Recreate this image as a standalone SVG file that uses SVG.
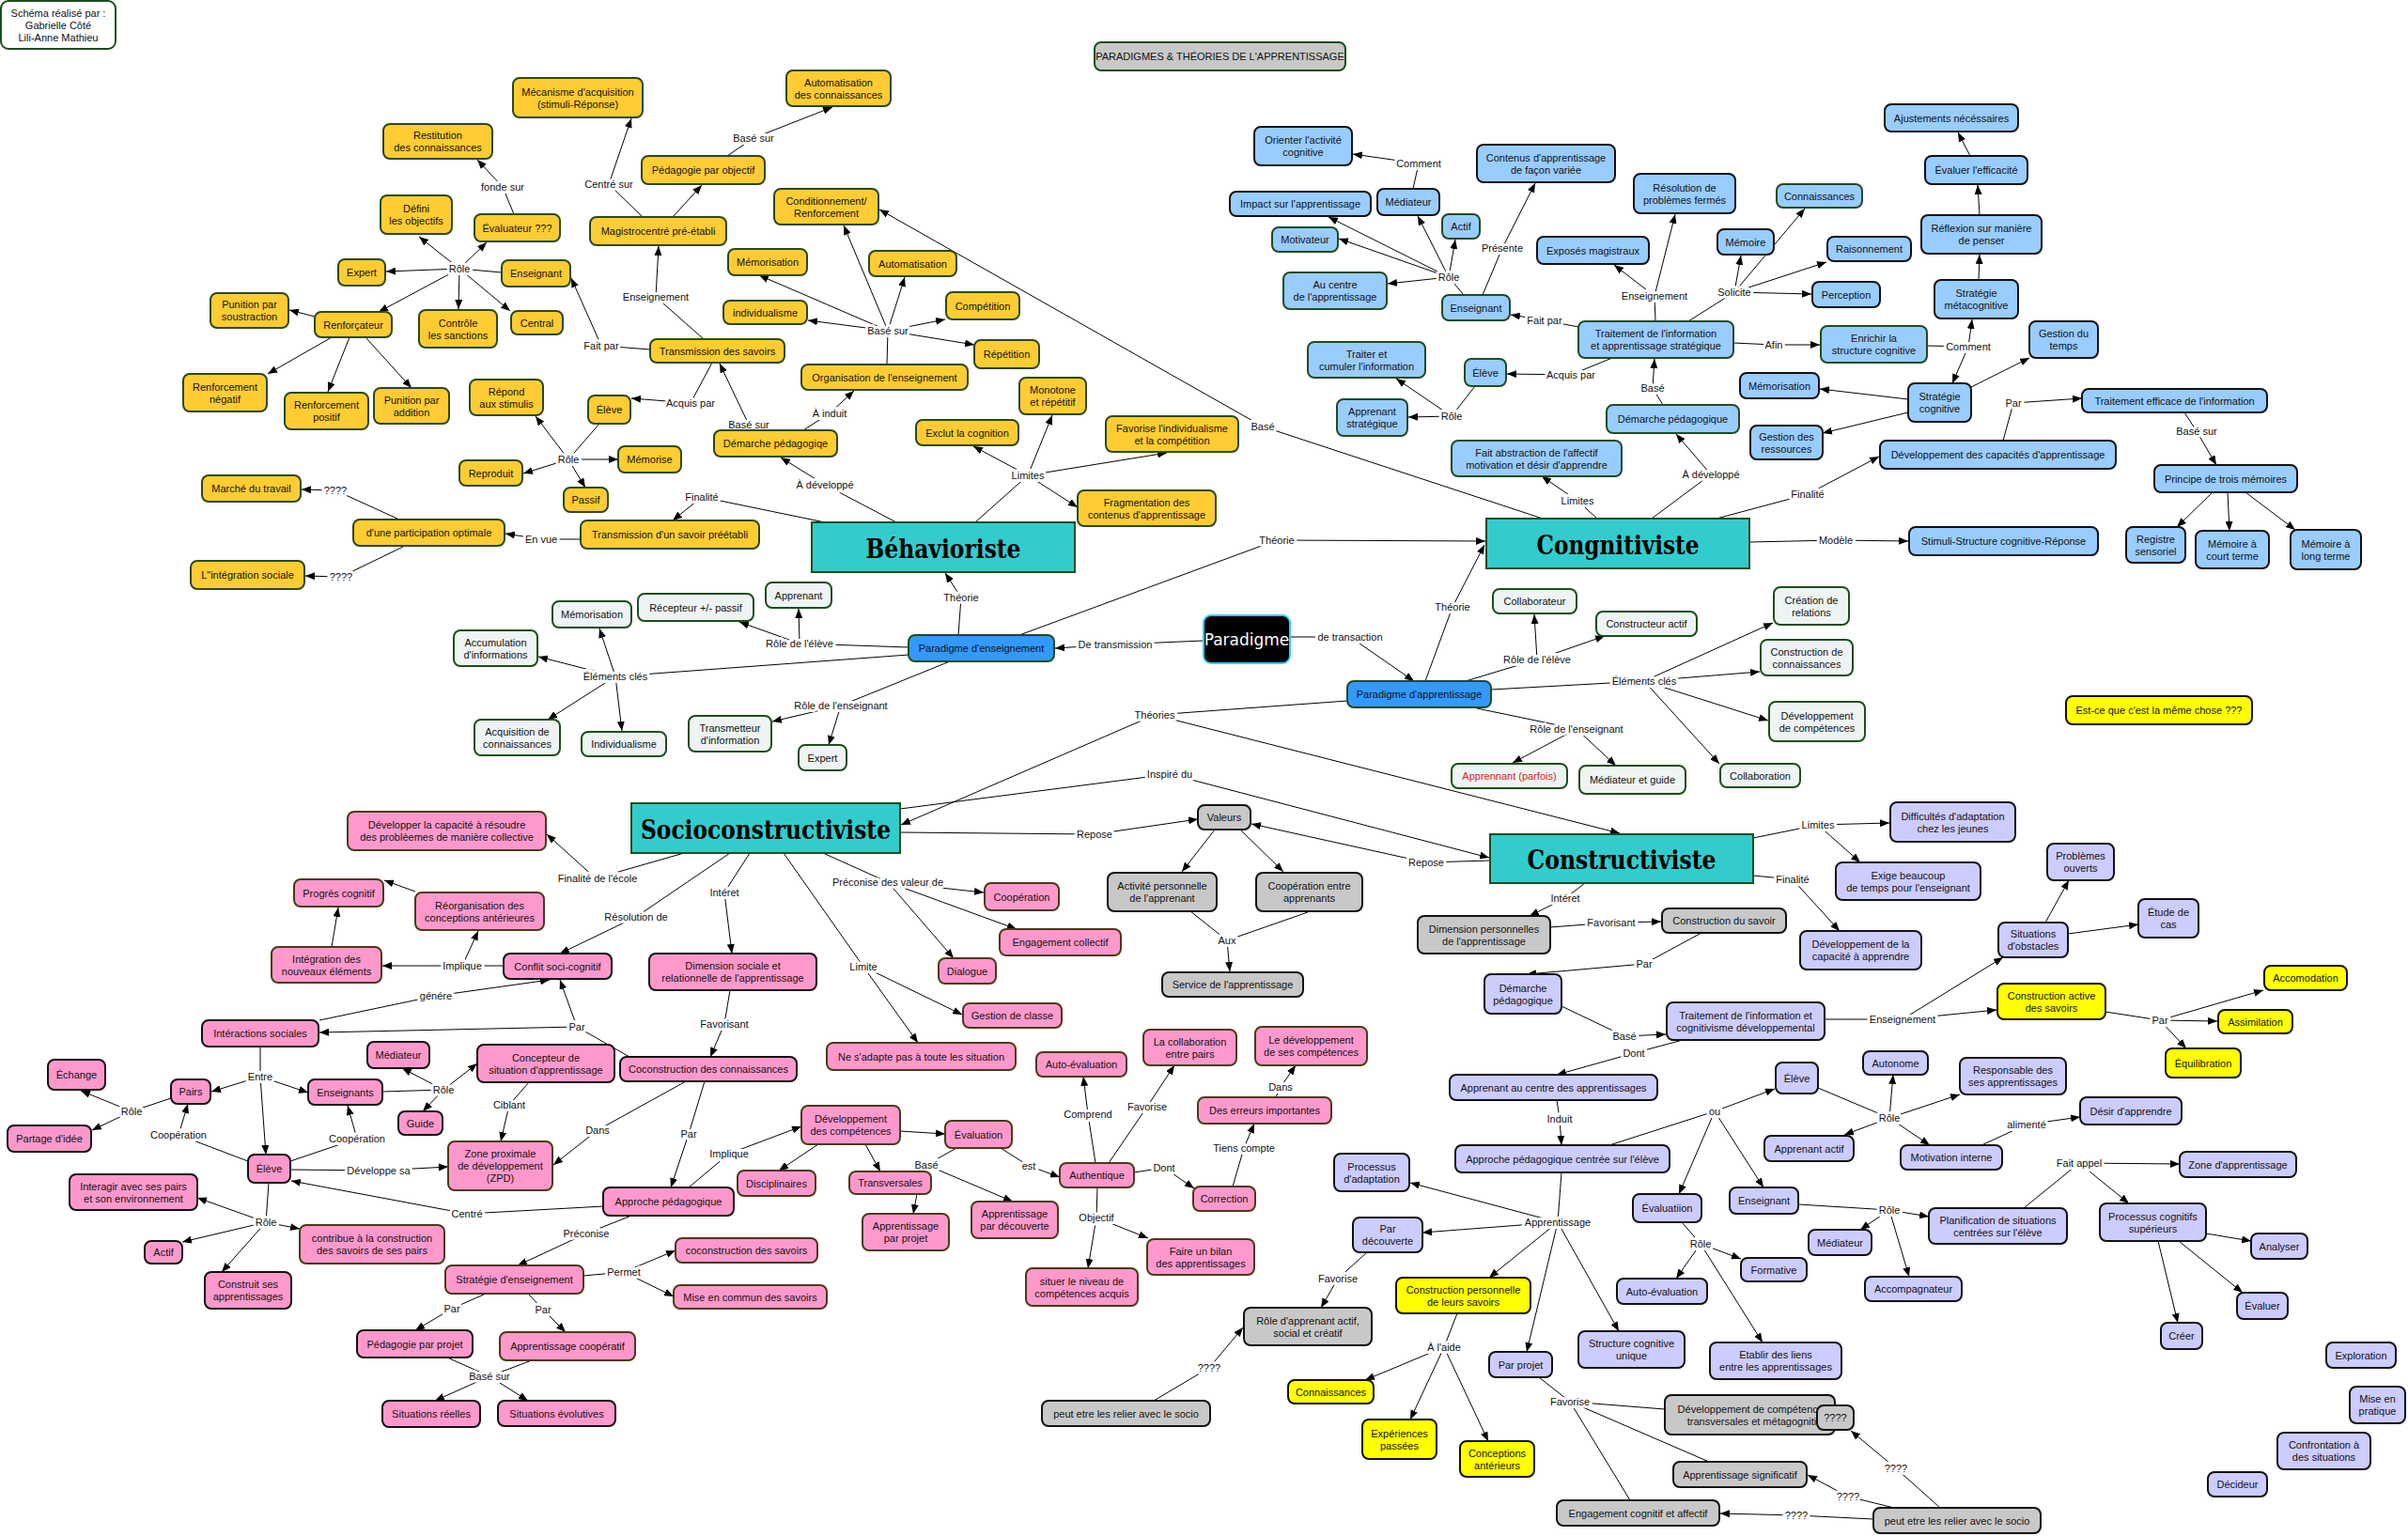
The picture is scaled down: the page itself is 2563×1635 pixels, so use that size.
<svg xmlns="http://www.w3.org/2000/svg" width="2563" height="1635" viewBox="0 0 2563 1635">
<defs>
<marker id="ar" viewBox="0 0 10 8" refX="10" refY="4" markerWidth="10" markerHeight="8" markerUnits="userSpaceOnUse" orient="auto"><path d="M0,0 L10,4 L0,8 z" fill="#000"/></marker>
</defs>
<style>
text{font-family:"Liberation Sans",Arial,sans-serif;font-size:11px;fill:#111;text-anchor:middle;dominant-baseline:central}
rect{stroke-width:2}
.y rect{fill:#FFCC33;stroke:#2A4A1A}
.bk rect{fill:#99CCFF;stroke:#111}
.bg rect{fill:#99CCFF;stroke:#1E4D1E}
.l rect{fill:#EEF4F4;stroke:#1E4D1E}
.g rect{fill:#C8C8C8;stroke:#111}
.gg rect{fill:#C8C8C8;stroke:#1E4D1E}
.p rect{fill:#CCCCFF;stroke:#111}
.x rect{fill:#FFFF00;stroke:#111}
.kb rect{fill:#FF99CC;stroke:#111}
.kr rect{fill:#FF99CC;stroke:#4A3A1A}
.h rect{fill:#33CCCC;stroke:#1E4D1E}
.h text{font-family:"DejaVu Serif",serif;font-weight:bold;font-size:28px;fill:#000}
.pb rect{fill:#3399FF;stroke:#1E4D1E}
#connectors path{stroke:#000;stroke-width:1;fill:none}
#connectors path.a{marker-end:url(#ar)}
.lb{paint-order:stroke;stroke:#fff;stroke-width:6px;stroke-linejoin:round}
</style>
<rect x="0" y="0" width="2563" height="1635" fill="#fff" stroke="none"/>
<g id="connectors">
<!-- behaviorist -->
<path d="M534,290L489,286"/><path class="a" d="M489,286L446,252"/><path class="a" d="M489,286L518,258"/><path class="a" d="M489,286L411,289"/><path class="a" d="M489,286L403,332"/><path class="a" d="M489,286L488,329"/><path class="a" d="M489,286L543,331"/>
<path d="M547,228L535,199"/><path class="a" d="M535,199L508,170"/>
<path class="a" d="M335,337L308,330"/><path class="a" d="M353,359L285,398"/><path class="a" d="M372,359L349,417"/><path class="a" d="M389,359L438,413"/>
<path d="M638,451L605,489"/><path class="a" d="M605,489L570,443"/><path class="a" d="M605,489L557,504"/><path class="a" d="M605,489L658,489"/><path class="a" d="M605,489L623,519"/>
<path d="M758,386L735,429"/><path class="a" d="M735,429L672,424"/>
<path d="M692,372L640,368"/><path class="a" d="M640,368L608,296"/>
<path d="M749,361L698,316"/><path class="a" d="M698,316L701,262"/>
<path d="M684,231L648,196"/><path class="a" d="M648,196L672,126"/>
<path class="a" d="M716,231L747,197"/>
<path d="M774,166L802,147"/><path class="a" d="M802,147L886,114"/>
<path class="a" d="M797,452L766,387"/>
<path d="M855,458L883,440"/><path class="a" d="M883,440L909,416"/>
<path d="M944,388L945,352"/><path class="a" d="M945,352L898,240"/><path class="a" d="M945,352L963,295"/><path class="a" d="M945,352L808,293"/><path class="a" d="M945,352L860,341"/><path class="a" d="M945,352L1006,340"/><path class="a" d="M945,352L1037,367"/>
<path d="M954,556L878,516"/><path class="a" d="M878,516L831,487"/>
<path d="M1038,556L1094,506"/><path class="a" d="M1094,506L1036,475"/><path class="a" d="M1094,506L1120,442"/><path class="a" d="M1094,506L1242,482"/><path class="a" d="M1094,506L1147,540"/>
<path d="M878,556L747,529"/><path class="a" d="M747,529L716,554"/>
<path d="M618,574L576,574"/><path class="a" d="M576,574L538,568"/>
<path d="M425,553L357,522"/><path class="a" d="M357,522L321,521"/>
<path d="M429,582L363,614"/><path class="a" d="M363,614L325,613"/>
<path d="M1642,552L1344,454"/><path class="a" d="M1344,454L936,223"/>
<!-- center -->
<path d="M1020,676L1023,636"/><path class="a" d="M1023,636L1006,610"/>
<path d="M1085,676L1359,575"/><path class="a" d="M1359,575L1581,576"/>
<path d="M1281,682L1187,686"/><path class="a" d="M1187,686L1123,690"/>
<path d="M1373,678L1437,678"/><path class="a" d="M1437,678L1505,725"/>
<path d="M967,689L851,685"/><path class="a" d="M851,685L850,648"/><path class="a" d="M851,685L787,662"/>
<path d="M967,697L655,720"/><path class="a" d="M655,720L638,669"/><path class="a" d="M655,720L573,699"/><path class="a" d="M655,720L583,766"/><path class="a" d="M655,720L662,778"/>
<path d="M1011,704L895,751"/><path class="a" d="M895,751L822,768"/><path class="a" d="M895,751L882,793"/>
<path d="M1517,725L1546,646"/><path class="a" d="M1546,646L1580,580"/>
<path d="M1560,725L1636,702"/><path class="a" d="M1636,702L1633,654"/><path class="a" d="M1636,702L1708,677"/>
<path d="M1587,734L1750,725"/><path class="a" d="M1750,725L1887,663"/><path class="a" d="M1750,725L1873,715"/><path class="a" d="M1750,725L1882,767"/><path class="a" d="M1750,725L1830,813"/>
<path d="M1572,754L1678,776"/><path class="a" d="M1678,776L1610,812"/><path class="a" d="M1678,776L1720,815"/>
<path d="M1434,746L1229,761"/><path class="a" d="M1229,761L959,878"/><path class="a" d="M1229,761L1724,887"/>
<path d="M958,861L1245,824"/><path class="a" d="M1245,824L1585,913"/>
<path d="M958,886L1165,888"/><path class="a" d="M1165,888L1275,872"/>
<path d="M1586,916L1518,918"/><path class="a" d="M1518,918L1332,877"/>
<path class="a" d="M1293,883L1258,928"/><path class="a" d="M1320,883L1366,928"/>
<path d="M1267,970L1306,1001"/><path d="M1392,971L1306,1001"/><path class="a" d="M1306,1001L1309,1034"/>
<!-- cognitive -->
<path d="M1862,577L1954,575"/><path class="a" d="M1954,575L2031,576"/>
<path d="M1827,552L1924,526"/><path class="a" d="M1924,526L2000,486"/>
<path d="M1758,552L1821,505"/><path class="a" d="M1821,505L1784,462"/>
<path d="M1700,552L1679,533"/><path class="a" d="M1679,533L1641,507"/>
<path d="M1770,431L1759,413"/><path class="a" d="M1759,413L1761,382"/>
<path d="M1680,348L1644,341"/><path class="a" d="M1644,341L1608,335"/>
<path d="M1762,342L1761,315"/><path class="a" d="M1761,315L1718,282"/><path class="a" d="M1761,315L1783,228"/>
<path d="M1797,342L1846,311"/><path class="a" d="M1846,311L1853,272"/><path class="a" d="M1846,311L1921,222"/><path class="a" d="M1846,311L1944,279"/><path class="a" d="M1846,311L1928,313"/>
<path d="M1845,365L1888,367"/><path class="a" d="M1888,367L1937,367"/>
<path d="M1716,381L1672,399"/><path class="a" d="M1672,399L1604,398"/>
<path d="M1570,411L1545,443"/><path class="a" d="M1545,443L1486,403"/><path class="a" d="M1545,443L1499,444"/>
<path d="M1578,314L1599,264"/><path class="a" d="M1599,264L1634,195"/>
<path d="M1558,314L1542,295"/><path class="a" d="M1542,295L1414,231"/><path class="a" d="M1542,295L1425,254"/><path class="a" d="M1542,295L1477,302"/><path class="a" d="M1542,295L1509,230"/><path class="a" d="M1542,295L1549,255"/>
<path d="M1504,201L1510,174"/><path class="a" d="M1510,174L1440,164"/>
<path d="M2051,368L2095,369"/><path class="a" d="M2095,369L2099,340"/><path class="a" d="M2095,369L2078,408"/>
<path class="a" d="M2106,298L2107,271"/><path class="a" d="M2107,229L2105,197"/><path class="a" d="M2097,166L2084,141"/>
<path class="a" d="M2098,412L2160,381"/><path class="a" d="M2031,425L1937,414"/><path class="a" d="M2031,439L1940,461"/>
<path d="M2132,469L2143,429"/><path class="a" d="M2143,429L2216,424"/>
<path d="M2325,439L2338,459"/><path class="a" d="M2338,459L2359,495"/>
<path class="a" d="M2355,524L2317,561"/><path class="a" d="M2371,524L2373,565"/><path class="a" d="M2390,524L2443,564"/>
<!-- constructiviste -->
<path d="M1866,892L1935,878"/><path class="a" d="M1935,878L2011,876"/><path class="a" d="M1935,878L1980,918"/>
<path d="M1866,932L1908,936"/><path class="a" d="M1908,936L1958,991"/>
<path d="M1687,940L1666,956"/><path class="a" d="M1666,956L1628,975"/>
<path d="M1650,987L1715,982"/><path class="a" d="M1715,982L1768,981"/>
<path d="M1811,993L1750,1026"/><path class="a" d="M1750,1026L1625,1037"/>
<path d="M1662,1071L1729,1103"/><path class="a" d="M1729,1103L1773,1101"/>
<path d="M1942,1085L2025,1085"/><path class="a" d="M2025,1085L2132,1019"/><path class="a" d="M2025,1085L2125,1075"/>
<path class="a" d="M2177,982L2202,937"/><path class="a" d="M2201,994L2276,984"/>
<path d="M2241,1077L2299,1086"/><path class="a" d="M2299,1086L2409,1054"/><path class="a" d="M2299,1086L2360,1087"/><path class="a" d="M2299,1086L2327,1116"/>
<path d="M1791,1107L1739,1121"/><path class="a" d="M1739,1121L1657,1144"/>
<path d="M1657,1171L1660,1191"/><path class="a" d="M1660,1191L1662,1219"/>
<path d="M1713,1219L1825,1183"/><path class="a" d="M1825,1183L1889,1159"/><path class="a" d="M1825,1183L1787,1271"/><path class="a" d="M1825,1183L1877,1264"/>
<path d="M1935,1158L2011,1190"/><path class="a" d="M2011,1190L2015,1144"/><path class="a" d="M2011,1190L2086,1165"/><path class="a" d="M2011,1190L1963,1208"/><path class="a" d="M2011,1190L2054,1219"/>
<path d="M2109,1219L2157,1197"/><path class="a" d="M2157,1197L2214,1189"/>
<path d="M1914,1282L2011,1288"/><path class="a" d="M2011,1288L2053,1295"/><path class="a" d="M2011,1288L1980,1309"/><path class="a" d="M2011,1288L2032,1359"/>
<path d="M2154,1286L2213,1238"/><path class="a" d="M2213,1238L2320,1239"/><path class="a" d="M2213,1238L2266,1281"/>
<path class="a" d="M2348,1313L2396,1321"/><path class="a" d="M2319,1321L2387,1376"/><path class="a" d="M2297,1321L2318,1408"/>
<path d="M1790,1301L1810,1324"/><path class="a" d="M1810,1324L1853,1340"/><path class="a" d="M1810,1324L1784,1361"/><path class="a" d="M1810,1324L1876,1429"/>
<path d="M1662,1248L1658,1301"/><path class="a" d="M1658,1301L1501,1259"/><path class="a" d="M1658,1301L1514,1312"/><path class="a" d="M1658,1301L1585,1360"/><path class="a" d="M1658,1301L1625,1439"/><path class="a" d="M1658,1301L1723,1417"/>
<path d="M1455,1333L1424,1361"/><path class="a" d="M1424,1361L1406,1392"/>
<path d="M1551,1398L1537,1434"/><path class="a" d="M1537,1434L1453,1469"/><path class="a" d="M1537,1434L1501,1511"/><path class="a" d="M1537,1434L1584,1534"/>
<path d="M1638,1466L1671,1492"/><path d="M1671,1492L1772,1500"/><path d="M1671,1492L1819,1556"/><path d="M1671,1492L1735,1597"/>
<path d="M1994,1617L1912,1613"/><path class="a" d="M1912,1613L1831,1611"/>
<path d="M2016,1605L1967,1593"/><path class="a" d="M1967,1593L1924,1570"/>
<path d="M2065,1605L2018,1563"/><path class="a" d="M2018,1563L1970,1523"/>
<path d="M1228,1491L1287,1456"/><path class="a" d="M1287,1456L1323,1413"/>
<!-- socio -->
<path d="M728,908L634,935"/><path class="a" d="M634,935L582,888"/>
<path d="M777,908L677,976"/><path class="a" d="M677,976L596,1015"/>
<path d="M798,908L771,950"/><path class="a" d="M771,950L779,1015"/>
<path d="M834,908L919,1029"/><path class="a" d="M919,1029L977,1110"/><path class="a" d="M919,1029L1024,1080"/>
<path d="M876,908L945,939"/><path class="a" d="M945,939L1047,950"/><path class="a" d="M945,939L1082,989"/><path class="a" d="M945,939L1015,1020"/>
<path d="M536,1028L492,1028"/><path class="a" d="M492,1028L407,1028"/><path class="a" d="M492,1028L509,991"/>
<path class="a" d="M442,949L409,937"/><path class="a" d="M353,1008L360,966"/>
<path d="M340,1086L464,1060"/><path class="a" d="M464,1060L585,1043"/>
<path d="M670,1125L614,1093"/><path class="a" d="M614,1093L596,1043"/><path class="a" d="M614,1093L340,1099"/>
<path d="M777,1054L771,1090"/><path class="a" d="M771,1090L756,1125"/>
<path d="M730,1151L636,1203"/><path class="a" d="M636,1203L589,1240"/>
<path d="M750,1151L733,1207"/><path class="a" d="M733,1207L714,1264"/>
<path d="M277,1114L277,1146"/><path class="a" d="M277,1146L225,1162"/><path class="a" d="M277,1146L328,1163"/><path class="a" d="M277,1146L283,1229"/>
<path d="M182,1169L140,1183"/><path class="a" d="M140,1183L86,1161"/><path class="a" d="M140,1183L98,1203"/>
<path d="M264,1236L190,1208"/><path class="a" d="M190,1208L200,1175"/>
<path d="M309,1236L380,1212"/><path class="a" d="M380,1212L370,1177"/>
<path d="M407,1162L472,1160"/><path class="a" d="M472,1160L428,1137"/><path class="a" d="M472,1160L508,1132"/><path class="a" d="M472,1160L450,1183"/>
<path d="M563,1152L542,1176"/><path class="a" d="M542,1176L533,1215"/>
<path d="M309,1245L403,1246"/><path class="a" d="M403,1246L477,1242"/>
<path d="M643,1284L497,1292"/><path class="a" d="M497,1292L310,1257"/>
<path d="M286,1259L283,1301"/><path class="a" d="M283,1301L210,1275"/><path class="a" d="M283,1301L194,1322"/><path class="a" d="M283,1301L319,1308"/><path class="a" d="M283,1301L236,1354"/>
<path d="M672,1294L624,1313"/><path class="a" d="M624,1313L551,1347"/>
<path d="M517,1377L481,1393"/><path class="a" d="M481,1393L442,1416"/>
<path d="M562,1377L578,1394"/><path class="a" d="M578,1394L602,1418"/>
<path d="M476,1445L521,1465"/><path d="M566,1448L521,1465"/><path class="a" d="M521,1465L463,1491"/><path class="a" d="M521,1465L562,1491"/>
<path d="M621,1358L664,1354"/><path class="a" d="M664,1354L719,1331"/><path class="a" d="M664,1354L717,1380"/>
<path d="M733,1264L776,1228"/><path class="a" d="M776,1228L853,1199"/>
<path class="a" d="M958,1204L1006,1207"/><path class="a" d="M871,1218L829,1246"/><path class="a" d="M921,1218L937,1247"/>
<path class="a" d="M976,1271L972,1292"/>
<path d="M1018,1222L986,1240"/><path class="a" d="M986,1240L1078,1279"/>
<path d="M1065,1222L1095,1241"/><path class="a" d="M1095,1241L1128,1253"/>
<path d="M1166,1238L1158,1186"/><path class="a" d="M1158,1186L1153,1146"/>
<path d="M1180,1238L1221,1178"/><path class="a" d="M1221,1178L1250,1134"/>
<path d="M1207,1248L1239,1243"/><path class="a" d="M1239,1243L1271,1265"/>
<path d="M1168,1264L1167,1296"/><path class="a" d="M1167,1296L1158,1350"/><path class="a" d="M1167,1296L1222,1318"/>
<path d="M1312,1263L1324,1222"/><path class="a" d="M1324,1222L1335,1196"/>
<path d="M1358,1168L1363,1157"/><path class="a" d="M1363,1157L1379,1134"/>
<g id="link-labels">
<text class="lb" x="489" y="286">Rôle</text><text class="lb" x="535" y="199">fonde sur</text><text class="lb" x="605" y="489">Rôle</text><text class="lb" x="735" y="429">Acquis par</text><text class="lb" x="640" y="368">Fait par</text><text class="lb" x="698" y="316">Enseignement</text><text class="lb" x="648" y="196">Centré sur</text><text class="lb" x="802" y="147">Basé sur</text><text class="lb" x="797" y="452">Basé sur</text><text class="lb" x="883" y="440">À induit</text><text class="lb" x="945" y="352">Basé sur</text><text class="lb" x="878" y="516">À développé</text><text class="lb" x="1094" y="506">Limites</text><text class="lb" x="747" y="529">Finalité</text><text class="lb" x="576" y="574">En vue</text><text class="lb" x="357" y="522">????</text><text class="lb" x="363" y="614">????</text><text class="lb" x="1344" y="454">Basé</text>
<text class="lb" x="1023" y="636">Théorie</text><text class="lb" x="1359" y="575">Théorie</text><text class="lb" x="1187" y="686">De transmission</text><text class="lb" x="1437" y="678">de transaction</text><text class="lb" x="851" y="685">Rôle de l'élève</text><text class="lb" x="655" y="720">Éléments clés</text><text class="lb" x="895" y="751">Rôle de l'enseignant</text><text class="lb" x="1546" y="646">Théorie</text><text class="lb" x="1636" y="702">Rôle de l'élève</text><text class="lb" x="1750" y="725">Éléments clés</text><text class="lb" x="1678" y="776">Rôle de l'enseignant</text><text class="lb" x="1229" y="761">Théories</text><text class="lb" x="1245" y="824">Inspiré du</text><text class="lb" x="1165" y="888">Repose</text><text class="lb" x="1518" y="918">Repose</text><text class="lb" x="1306" y="1001">Aux</text>
<text class="lb" x="1954" y="575">Modèle</text><text class="lb" x="1924" y="526">Finalité</text><text class="lb" x="1821" y="505">À développé</text><text class="lb" x="1679" y="533">Limites</text><text class="lb" x="1759" y="413">Basé</text><text class="lb" x="1644" y="341">Fait par</text><text class="lb" x="1761" y="315">Enseignement</text><text class="lb" x="1846" y="311">Solicite</text><text class="lb" x="1888" y="367">Afin</text><text class="lb" x="1672" y="399">Acquis par</text><text class="lb" x="1545" y="443">Rôle</text><text class="lb" x="1599" y="264">Présente</text><text class="lb" x="1542" y="295">Rôle</text><text class="lb" x="1510" y="174">Comment</text><text class="lb" x="2095" y="369">Comment</text><text class="lb" x="2143" y="429">Par</text><text class="lb" x="2338" y="459">Basé sur</text>
<text class="lb" x="1935" y="878">Limites</text><text class="lb" x="1908" y="936">Finalité</text><text class="lb" x="1666" y="956">Intéret</text><text class="lb" x="1715" y="982">Favorisant</text><text class="lb" x="1750" y="1026">Par</text><text class="lb" x="1729" y="1103">Basé</text><text class="lb" x="2025" y="1085">Enseignement</text><text class="lb" x="2299" y="1086">Par</text><text class="lb" x="1739" y="1121">Dont</text><text class="lb" x="1660" y="1191">Induit</text><text class="lb" x="1825" y="1183">ou</text><text class="lb" x="2011" y="1190">Rôle</text><text class="lb" x="2157" y="1197">alimenté</text><text class="lb" x="2011" y="1288">Rôle</text><text class="lb" x="2213" y="1238">Fait appel</text><text class="lb" x="1810" y="1324">Rôle</text><text class="lb" x="1658" y="1301">Apprentissage</text><text class="lb" x="1424" y="1361">Favorise</text><text class="lb" x="1537" y="1434">À l'aide</text><text class="lb" x="1671" y="1492">Favorise</text><text class="lb" x="1912" y="1613">????</text><text class="lb" x="1967" y="1593">????</text><text class="lb" x="2018" y="1563">????</text><text class="lb" x="1287" y="1456">????</text>
<text class="lb" x="636" y="935">Finalité de l'école</text><text class="lb" x="677" y="976">Résolution de</text><text class="lb" x="771" y="950">Intéret</text><text class="lb" x="919" y="1029">Limite</text><text class="lb" x="945" y="939">Préconise des valeur de</text><text class="lb" x="492" y="1028">Implique</text><text class="lb" x="464" y="1060">génére</text><text class="lb" x="614" y="1093">Par</text><text class="lb" x="771" y="1090">Favorisant</text><text class="lb" x="636" y="1203">Dans</text><text class="lb" x="733" y="1207">Par</text><text class="lb" x="277" y="1146">Entre</text><text class="lb" x="140" y="1183">Rôle</text><text class="lb" x="190" y="1208">Coopération</text><text class="lb" x="380" y="1212">Coopération</text><text class="lb" x="472" y="1160">Rôle</text><text class="lb" x="542" y="1176">Ciblant</text><text class="lb" x="403" y="1246">Développe sa</text><text class="lb" x="497" y="1292">Centré</text><text class="lb" x="283" y="1301">Rôle</text><text class="lb" x="624" y="1313">Préconise</text><text class="lb" x="481" y="1393">Par</text><text class="lb" x="578" y="1394">Par</text><text class="lb" x="521" y="1465">Basé sur</text><text class="lb" x="664" y="1354">Permet</text><text class="lb" x="776" y="1228">Implique</text><text class="lb" x="986" y="1240">Basé</text><text class="lb" x="1095" y="1241">est</text><text class="lb" x="1158" y="1186">Comprend</text><text class="lb" x="1221" y="1178">Favorise</text><text class="lb" x="1239" y="1243">Dont</text><text class="lb" x="1167" y="1296">Objectif</text><text class="lb" x="1324" y="1222">Tiens compte</text><text class="lb" x="1363" y="1157">Dans</text>
</g>
</g>
<!-- special nodes -->
<g id="schema"><rect x="1" y="1" width="122" height="51" rx="8" fill="#fff" stroke="#1E4D1E"/><text x="62" y="26.5"><tspan x="62" dy="-13">Schéma réalisé par :</tspan><tspan x="62" dy="13">Gabrielle Côté</tspan><tspan x="62" dy="13">Lili-Anne Mathieu</tspan></text></g>
<g id="titre" class="gg"><rect x="1165" y="45" width="267" height="30" rx="7"/><text x="1298.5" y="60">PARADIGMES &amp; THÉORIES DE L'APPRENTISSAGE</text></g>
<g id="paradigme"><rect x="1281" y="655" width="92" height="51" rx="8" fill="#000" stroke="#33CCFF"/><text x="1327" y="680.5" style="fill:#fff;font-size:17px;font-family:'DejaVu Sans',sans-serif">Paradigme</text></g>
<g id="par-ens" class="pb"><rect x="967" y="676" width="155" height="28" rx="7"/><text x="1044.5" y="690">Paradigme d'enseignement</text></g>
<g id="par-app" class="pb"><rect x="1434" y="725" width="153" height="28" rx="7"/><text x="1510.5" y="739">Paradigme d'apprentissage</text></g>
<g id="h-behav" class="h"><rect x="864" y="556" width="280" height="53" rx="0"/><text x="1004" y="584" textLength="165" lengthAdjust="spacingAndGlyphs">Béhavioriste</text></g>
<g id="h-cogn" class="h"><rect x="1582" y="552" width="280" height="53" rx="0"/><text x="1722" y="580" textLength="173" lengthAdjust="spacingAndGlyphs">Congnitiviste</text></g>
<g id="h-socio" class="h"><rect x="672" y="855" width="286" height="53" rx="0"/><text x="815" y="883" textLength="266" lengthAdjust="spacingAndGlyphs">Socioconstructiviste</text></g>
<g id="h-constr" class="h"><rect x="1586" y="888" width="280" height="52" rx="0"/><text x="1726" y="915" textLength="201" lengthAdjust="spacingAndGlyphs">Constructiviste</text></g>
<!-- yellow -->
<g id="y1" class="y"><rect x="546" y="83" width="138" height="42" rx="7"/><text x="615" y="104"><tspan x="615" dy="-6.5">Mécanisme d'acquisition</tspan><tspan x="615" dy="13">(stimuli-Réponse)</tspan></text></g>
<g id="y2" class="y"><rect x="837" y="75" width="111" height="38" rx="7"/><text x="892.5" y="94"><tspan x="892.5" dy="-6.5">Automatisation</tspan><tspan x="892.5" dy="13">des connaissances</tspan></text></g>
<g id="y3" class="y"><rect x="408" y="132" width="116" height="37" rx="7"/><text x="466" y="150.5"><tspan x="466" dy="-6.5">Restitution</tspan><tspan x="466" dy="13">des connaissances</tspan></text></g>
<g id="y4" class="y"><rect x="683" y="166" width="131" height="30" rx="7"/><text x="748.5" y="181">Pédagogie par objectif</text></g>
<g id="y5" class="y"><rect x="824" y="201" width="111" height="38" rx="7"/><text x="879.5" y="220"><tspan x="879.5" dy="-6.5">Conditionnement/</tspan><tspan x="879.5" dy="13">Renforcement</tspan></text></g>
<g id="y6" class="y"><rect x="405" y="208" width="76" height="41" rx="7"/><text x="443" y="228.5"><tspan x="443" dy="-6.5">Défini</tspan><tspan x="443" dy="13">les objectifs</tspan></text></g>
<g id="y7" class="y"><rect x="505" y="228" width="91" height="29" rx="7"/><text x="550.5" y="242.5">Évaluateur ???</text></g>
<g id="y8" class="y"><rect x="628" y="231" width="145" height="30" rx="7"/><text x="700.5" y="246">Magistrocentré pré-établi</text></g>
<g id="y9" class="y"><rect x="775" y="265" width="84" height="28" rx="7"/><text x="817" y="279">Mémorisation</text></g>
<g id="y10" class="y"><rect x="925" y="267" width="93" height="27" rx="7"/><text x="971.5" y="280.5">Automatisation</text></g>
<g id="y11" class="y"><rect x="360" y="276" width="50" height="28" rx="7"/><text x="385" y="290">Expert</text></g>
<g id="y12" class="y"><rect x="534" y="277" width="73" height="28" rx="7"/><text x="570.5" y="291">Enseignant</text></g>
<g id="y13" class="y"><rect x="224" y="312" width="83" height="37" rx="7"/><text x="265.5" y="330.5"><tspan x="265.5" dy="-6.5">Punition par</tspan><tspan x="265.5" dy="13">soustraction</tspan></text></g>
<g id="y14" class="y"><rect x="335" y="332" width="82" height="27" rx="7"/><text x="376" y="345.5">Renforçateur</text></g>
<g id="y15" class="y"><rect x="446" y="330" width="83" height="40" rx="7"/><text x="487.5" y="350"><tspan x="487.5" dy="-6.5">Contrôle</tspan><tspan x="487.5" dy="13">les sanctions</tspan></text></g>
<g id="y16" class="y"><rect x="544" y="331" width="55" height="25" rx="7"/><text x="571.5" y="343.5">Central</text></g>
<g id="y17" class="y"><rect x="770" y="320" width="89" height="25" rx="7"/><text x="814.5" y="332.5">individualisme</text></g>
<g id="y18" class="y"><rect x="1007" y="311" width="78" height="29" rx="7"/><text x="1046" y="325.5">Compétition</text></g>
<g id="y19" class="y"><rect x="1037" y="362" width="69" height="30" rx="7"/><text x="1071.5" y="377">Répétition</text></g>
<g id="y20" class="y"><rect x="692" y="361" width="143" height="25" rx="7"/><text x="763.5" y="373.5">Transmission des savoirs</text></g>
<g id="y21" class="y"><rect x="853" y="388" width="177" height="27" rx="7"/><text x="941.5" y="401.5">Organisation de l'enseignement</text></g>
<g id="y22" class="y"><rect x="195" y="398" width="89" height="40" rx="7"/><text x="239.5" y="418"><tspan x="239.5" dy="-6.5">Renforcement</tspan><tspan x="239.5" dy="13">négatif</tspan></text></g>
<g id="y23" class="y"><rect x="303" y="418" width="89" height="39" rx="7"/><text x="347.5" y="437.5"><tspan x="347.5" dy="-6.5">Renforcement</tspan><tspan x="347.5" dy="13">positif</tspan></text></g>
<g id="y24" class="y"><rect x="398" y="413" width="80" height="38" rx="7"/><text x="438" y="432"><tspan x="438" dy="-6.5">Punition par</tspan><tspan x="438" dy="13">addition</tspan></text></g>
<g id="y25" class="y"><rect x="500" y="404" width="78" height="38" rx="7"/><text x="539" y="423"><tspan x="539" dy="-6.5">Répond</tspan><tspan x="539" dy="13">aux stimulis</tspan></text></g>
<g id="y26" class="y"><rect x="626" y="421" width="45" height="30" rx="7"/><text x="648.5" y="436">Élève</text></g>
<g id="y27" class="y"><rect x="1085" y="402" width="71" height="39" rx="7"/><text x="1120.5" y="421.5"><tspan x="1120.5" dy="-6.5">Monotone</tspan><tspan x="1120.5" dy="13">et répétitif</tspan></text></g>
<g id="y28" class="y"><rect x="975" y="447" width="109" height="27" rx="7"/><text x="1029.5" y="460.5">Exclut la cognition</text></g>
<g id="y29" class="y"><rect x="1177" y="443" width="141" height="38" rx="7"/><text x="1247.5" y="462"><tspan x="1247.5" dy="-6.5">Favorise l'individualisme</tspan><tspan x="1247.5" dy="13">et la compétition</tspan></text></g>
<g id="y30" class="y"><rect x="760" y="458" width="131" height="28" rx="7"/><text x="825.5" y="472">Démarche pédagogiqe</text></g>
<g id="y31" class="y"><rect x="658" y="475" width="67" height="28" rx="7"/><text x="691.5" y="489">Mémorise</text></g>
<g id="y32" class="y"><rect x="489" y="490" width="67" height="27" rx="7"/><text x="522.5" y="503.5">Reproduit</text></g>
<g id="y33" class="y"><rect x="600" y="519" width="47" height="26" rx="7"/><text x="623.5" y="532">Passif</text></g>
<g id="y34" class="y"><rect x="215" y="506" width="105" height="28" rx="7"/><text x="267.5" y="520">Marché du travail</text></g>
<g id="y35" class="y"><rect x="1147" y="522" width="147" height="38" rx="7"/><text x="1220.5" y="541"><tspan x="1220.5" dy="-6.5">Fragmentation des</tspan><tspan x="1220.5" dy="13">contenus d'apprentissage</tspan></text></g>
<g id="y36" class="y"><rect x="376" y="553" width="161" height="28" rx="7"/><text x="456.5" y="567">d'une participation optimale</text></g>
<g id="y37" class="y"><rect x="618" y="554" width="190" height="30" rx="7"/><text x="713" y="569">Transmission d'un savoir préétabli</text></g>
<g id="y38" class="y"><rect x="203" y="597" width="121" height="30" rx="7"/><text x="263.5" y="612">L"intégration sociale</text></g>
<!-- blue -->
<g id="b1" class="bk"><rect x="1335" y="135" width="104" height="41" rx="7"/><text x="1387" y="155.5"><tspan x="1387" dy="-6.5">Orienter l'activité</tspan><tspan x="1387" dy="13">cognitive</tspan></text></g>
<g id="b2" class="bk"><rect x="1572" y="154" width="147" height="40" rx="7"/><text x="1645.5" y="174"><tspan x="1645.5" dy="-6.5">Contenus d'apprentissage</tspan><tspan x="1645.5" dy="13">de façon variée</tspan></text></g>
<g id="b3" class="bk"><rect x="1309" y="204" width="150" height="26" rx="7"/><text x="1384" y="217">Impact sur l'apprentissage</text></g>
<g id="b4" class="bk"><rect x="1466" y="201" width="66" height="28" rx="7"/><text x="1499" y="215">Médiateur</text></g>
<g id="b5" class="bg"><rect x="1535" y="228" width="40" height="26" rx="7"/><text x="1555" y="241">Actif</text></g>
<g id="b6" class="bg"><rect x="1354" y="242" width="70" height="26" rx="7"/><text x="1389" y="255">Motivateur</text></g>
<g id="b7" class="bk"><rect x="1739" y="185" width="108" height="42" rx="7"/><text x="1793" y="206"><tspan x="1793" dy="-6.5">Résolution de</tspan><tspan x="1793" dy="13">problèmes fermés</tspan></text></g>
<g id="b8" class="bg"><rect x="1891" y="196" width="91" height="25" rx="7"/><text x="1936.5" y="208.5">Connaissances</text></g>
<g id="b9" class="bk"><rect x="1636" y="252" width="119" height="29" rx="7"/><text x="1695.5" y="266.5">Exposés magistraux</text></g>
<g id="b10" class="bk"><rect x="1828" y="244" width="60" height="27" rx="7"/><text x="1858" y="257.5">Mémoire</text></g>
<g id="b11" class="bk"><rect x="1945" y="252" width="89" height="26" rx="7"/><text x="1989.5" y="265">Raisonnement</text></g>
<g id="b12" class="bg"><rect x="1366" y="290" width="110" height="39" rx="7"/><text x="1421" y="309.5"><tspan x="1421" dy="-6.5">Au centre</tspan><tspan x="1421" dy="13">de l'apprentissage</tspan></text></g>
<g id="b13" class="bk"><rect x="1929" y="300" width="72" height="27" rx="7"/><text x="1965" y="313.5">Perception</text></g>
<g id="b14" class="bg"><rect x="1535" y="314" width="72" height="27" rx="7"/><text x="1571" y="327.5">Enseignant</text></g>
<g id="b15" class="bg"><rect x="1680" y="342" width="165" height="39" rx="7"/><text x="1762.5" y="361.5"><tspan x="1762.5" dy="-6.5">Traitement de l'information</tspan><tspan x="1762.5" dy="13">et apprentissage stratégique</tspan></text></g>
<g id="b16" class="bg"><rect x="1938" y="347" width="113" height="39" rx="7"/><text x="1994.5" y="366.5"><tspan x="1994.5" dy="-6.5">Enrichir la</tspan><tspan x="1994.5" dy="13">structure cognitive</tspan></text></g>
<g id="b17" class="bg"><rect x="1392" y="364" width="125" height="38" rx="7"/><text x="1454.5" y="383"><tspan x="1454.5" dy="-6.5">Traiter et</tspan><tspan x="1454.5" dy="13">cumuler l'information</tspan></text></g>
<g id="b18" class="bg"><rect x="1559" y="382" width="44" height="29" rx="7"/><text x="1581" y="396.5">Élève</text></g>
<g id="b19" class="bk"><rect x="1852" y="397" width="84" height="27" rx="7"/><text x="1894" y="410.5">Mémorisation</text></g>
<g id="b20" class="bg"><rect x="1423" y="425" width="75" height="39" rx="7"/><text x="1460.5" y="444.5"><tspan x="1460.5" dy="-6.5">Apprenant</tspan><tspan x="1460.5" dy="13">stratégique</tspan></text></g>
<g id="b21" class="bg"><rect x="1710" y="431" width="141" height="30" rx="7"/><text x="1780.5" y="446">Démarche pédagogique</text></g>
<g id="b22" class="bk"><rect x="1863" y="453" width="77" height="36" rx="7"/><text x="1901.5" y="471"><tspan x="1901.5" dy="-6.5">Gestion des</tspan><tspan x="1901.5" dy="13">ressources</tspan></text></g>
<g id="b23" class="bg"><rect x="1545" y="469" width="181" height="38" rx="7"/><text x="1635.5" y="488"><tspan x="1635.5" dy="-6.5">Fait abstraction de l'affectif</tspan><tspan x="1635.5" dy="13">motivation et désir d'apprendre</tspan></text></g>
<g id="b24" class="bk"><rect x="2006" y="111" width="142" height="29" rx="7"/><text x="2077" y="125.5">Ajustements nécéssaires</text></g>
<g id="b25" class="bk"><rect x="2049" y="166" width="109" height="30" rx="7"/><text x="2103.5" y="181">Évaluer l'efficacité</text></g>
<g id="b26" class="bk"><rect x="2045" y="229" width="128" height="41" rx="7"/><text x="2109" y="249.5"><tspan x="2109" dy="-6.5">Réflexion sur manière</tspan><tspan x="2109" dy="13">de penser</tspan></text></g>
<g id="b27" class="bk"><rect x="2059" y="298" width="89" height="41" rx="7"/><text x="2103.5" y="318.5"><tspan x="2103.5" dy="-6.5">Stratégie</tspan><tspan x="2103.5" dy="13">métacognitive</tspan></text></g>
<g id="b28" class="bk"><rect x="2160" y="342" width="73" height="39" rx="7"/><text x="2196.5" y="361.5"><tspan x="2196.5" dy="-6.5">Gestion du</tspan><tspan x="2196.5" dy="13">temps</tspan></text></g>
<g id="b29" class="bk"><rect x="2031" y="408" width="67" height="41" rx="7"/><text x="2064.5" y="428.5"><tspan x="2064.5" dy="-6.5">Stratégie</tspan><tspan x="2064.5" dy="13">cognitive</tspan></text></g>
<g id="b30" class="bk"><rect x="2216" y="414" width="197" height="25" rx="7"/><text x="2314.5" y="426.5">Traitement efficace de l'information</text></g>
<g id="b31" class="bk"><rect x="2001" y="469" width="251" height="30" rx="7"/><text x="2126.5" y="484">Développement des capacités d'apprentissage</text></g>
<g id="b32" class="bk"><rect x="2293" y="495" width="152" height="29" rx="7"/><text x="2369" y="509.5">Principe de trois mémoires</text></g>
<g id="b33" class="bk"><rect x="2032" y="561" width="201" height="30" rx="7"/><text x="2132.5" y="576">Stimuli-Structure cognitive-Réponse</text></g>
<g id="b34" class="bk"><rect x="2263" y="561" width="63" height="38" rx="7"/><text x="2294.5" y="580"><tspan x="2294.5" dy="-6.5">Registre</tspan><tspan x="2294.5" dy="13">sensoriel</tspan></text></g>
<g id="b35" class="bk"><rect x="2337" y="565" width="78" height="40" rx="7"/><text x="2376" y="585"><tspan x="2376" dy="-6.5">Mémoire à</tspan><tspan x="2376" dy="13">court terme</tspan></text></g>
<g id="b36" class="bk"><rect x="2438" y="564" width="75" height="42" rx="7"/><text x="2475.5" y="585"><tspan x="2475.5" dy="-6.5">Mémoire à</tspan><tspan x="2475.5" dy="13">long terme</tspan></text></g>
<!-- light -->
<g id="l1" class="l"><rect x="815" y="620" width="70" height="27" rx="7"/><text x="850" y="633.5">Apprenant</text></g>
<g id="l2" class="l"><rect x="679" y="632" width="123" height="29" rx="7"/><text x="740.5" y="646.5">Récepteur +/- passif</text></g>
<g id="l3" class="l"><rect x="588" y="640" width="84" height="28" rx="7"/><text x="630" y="654">Mémorisation</text></g>
<g id="l4" class="l"><rect x="483" y="671" width="89" height="38" rx="7"/><text x="527.5" y="690"><tspan x="527.5" dy="-6.5">Accumulation</tspan><tspan x="527.5" dy="13">d'informations</tspan></text></g>
<g id="l5" class="l"><rect x="733" y="762" width="88" height="38" rx="7"/><text x="777" y="781"><tspan x="777" dy="-6.5">Transmetteur</tspan><tspan x="777" dy="13">d'information</tspan></text></g>
<g id="l6" class="l"><rect x="850" y="793" width="51" height="27" rx="7"/><text x="875.5" y="806.5">Expert</text></g>
<g id="l7" class="l"><rect x="505" y="766" width="91" height="38" rx="7"/><text x="550.5" y="785"><tspan x="550.5" dy="-6.5">Acquisition de</tspan><tspan x="550.5" dy="13">connaissances</tspan></text></g>
<g id="l8" class="l"><rect x="619" y="779" width="90" height="26" rx="7"/><text x="664" y="792">Individualisme</text></g>
<g id="l9" class="l"><rect x="1589" y="627" width="89" height="26" rx="7"/><text x="1633.5" y="640">Collaborateur</text></g>
<g id="l10" class="l"><rect x="1699" y="651" width="107" height="26" rx="7"/><text x="1752.5" y="664">Constructeur actif</text></g>
<g id="l11" class="l"><rect x="1888" y="625" width="80" height="40" rx="7"/><text x="1928" y="645"><tspan x="1928" dy="-6.5">Création de</tspan><tspan x="1928" dy="13">relations</tspan></text></g>
<g id="l12" class="l"><rect x="1874" y="681" width="98" height="38" rx="7"/><text x="1923" y="700"><tspan x="1923" dy="-6.5">Construction de</tspan><tspan x="1923" dy="13">connaissances</tspan></text></g>
<g id="l13" class="l"><rect x="1883" y="747" width="102" height="42" rx="7"/><text x="1934" y="768"><tspan x="1934" dy="-6.5">Développement</tspan><tspan x="1934" dy="13">de compétences</tspan></text></g>
<g id="l14" class="l"><rect x="1831" y="813" width="85" height="25" rx="7"/><text x="1873.5" y="825.5">Collaboration</text></g>
<g id="l15" class="l"><rect x="1545" y="813" width="123" height="26" rx="7"/><text x="1606.5" y="826" style="fill:#E02020">Apprennant (parfois)</text></g>
<g id="l16" class="l"><rect x="1681" y="815" width="113" height="30" rx="7"/><text x="1737.5" y="830">Médiateur et guide</text></g>
<!-- gray -->
<g id="g2" class="g"><rect x="1275" y="857" width="56" height="26" rx="7"/><text x="1303" y="870">Valeurs</text></g>
<g id="g3" class="g"><rect x="1179" y="929" width="116" height="41" rx="7"/><text x="1237" y="949.5"><tspan x="1237" dy="-6.5">Activité personnelle</tspan><tspan x="1237" dy="13">de l'apprenant</tspan></text></g>
<g id="g4" class="g"><rect x="1337" y="929" width="113" height="41" rx="7"/><text x="1393.5" y="949.5"><tspan x="1393.5" dy="-6.5">Coopération entre</tspan><tspan x="1393.5" dy="13">apprenants</tspan></text></g>
<g id="g5" class="g"><rect x="1237" y="1035" width="150" height="26" rx="7"/><text x="1312" y="1048">Service de l'apprentissage</text></g>
<g id="g6" class="g"><rect x="1509" y="975" width="141" height="40" rx="7"/><text x="1579.5" y="995"><tspan x="1579.5" dy="-6.5">Dimension personnelles</tspan><tspan x="1579.5" dy="13">de l'apprentissage</tspan></text></g>
<g id="g7" class="g"><rect x="1769" y="967" width="132" height="26" rx="7"/><text x="1835" y="980">Construction du savoir</text></g>
<g id="g8" class="g"><rect x="1324" y="1392" width="136" height="40" rx="7"/><text x="1392" y="1412"><tspan x="1392" dy="-6.5">Rôle d'apprenant actif,</tspan><tspan x="1392" dy="13">social et créatif</tspan></text></g>
<g id="g9" class="g"><rect x="1109" y="1491" width="179" height="27" rx="7"/><text x="1198.5" y="1504.5">peut etre les relier avec le socio</text></g>
<g id="g10" class="g"><rect x="1772" y="1485" width="181" height="42" rx="7"/><text x="1866" y="1506"><tspan x="1866" dy="-6.5">Développement de compétences</tspan><tspan x="1866" dy="13">transversales et métagognitif</tspan></text></g>
<g id="g11" class="g"><rect x="1934" y="1496" width="39" height="26" rx="7"/><text x="1953.5" y="1509">????</text></g>
<g id="g12" class="g"><rect x="1781" y="1556" width="142" height="27" rx="7"/><text x="1852" y="1569.5">Apprentissage significatif</text></g>
<g id="g13" class="g"><rect x="1657" y="1597" width="173" height="27" rx="7"/><text x="1743.5" y="1610.5">Engagement cognitif et affectif</text></g>
<g id="g14" class="g"><rect x="1994" y="1605" width="178" height="27" rx="7"/><text x="2083" y="1618.5">peut etre les relier avec le socio</text></g>
<!-- purple -->
<g id="p1" class="p"><rect x="2012" y="854" width="133" height="42" rx="7"/><text x="2078.5" y="875"><tspan x="2078.5" dy="-6.5">Difficultés d'adaptation</tspan><tspan x="2078.5" dy="13">chez les jeunes</tspan></text></g>
<g id="p2" class="p"><rect x="1954" y="918" width="154" height="40" rx="7"/><text x="2031" y="938"><tspan x="2031" dy="-6.5">Exige beaucoup</tspan><tspan x="2031" dy="13">de temps pour l'enseignant</tspan></text></g>
<g id="p3" class="p"><rect x="2179" y="898" width="71" height="39" rx="7"/><text x="2214.5" y="917.5"><tspan x="2214.5" dy="-6.5">Problèmes</tspan><tspan x="2214.5" dy="13">ouverts</tspan></text></g>
<g id="p4" class="p"><rect x="2276" y="957" width="64" height="41" rx="7"/><text x="2308" y="977.5"><tspan x="2308" dy="-6.5">Étude de</tspan><tspan x="2308" dy="13">cas</tspan></text></g>
<g id="p5" class="p"><rect x="2127" y="982" width="74" height="37" rx="7"/><text x="2164" y="1000.5"><tspan x="2164" dy="-6.5">Situations</tspan><tspan x="2164" dy="13">d'obstacles</tspan></text></g>
<g id="p6" class="p"><rect x="1916" y="991" width="129" height="41" rx="7"/><text x="1980.5" y="1011.5"><tspan x="1980.5" dy="-6.5">Développement de la</tspan><tspan x="1980.5" dy="13">capacité à apprendre</tspan></text></g>
<g id="p7" class="p"><rect x="1580" y="1037" width="82" height="42" rx="7"/><text x="1621" y="1058"><tspan x="1621" dy="-6.5">Démarche</tspan><tspan x="1621" dy="13">pédagogique</tspan></text></g>
<g id="p8" class="p"><rect x="1774" y="1067" width="168" height="40" rx="7"/><text x="1858" y="1087"><tspan x="1858" dy="-6.5">Traitement de l'information et</tspan><tspan x="1858" dy="13">cognitivisme développemental</tspan></text></g>
<g id="p9" class="p"><rect x="1543" y="1144" width="221" height="27" rx="7"/><text x="1653.5" y="1157.5">Apprenant au centre des apprentissages</text></g>
<g id="p10" class="p"><rect x="1890" y="1131" width="45" height="33" rx="7"/><text x="1912.5" y="1147.5">Élève</text></g>
<g id="p11" class="p"><rect x="1983" y="1119" width="69" height="25" rx="7"/><text x="2017.5" y="1131.5">Autonome</text></g>
<g id="p12" class="p"><rect x="2086" y="1126" width="113" height="39" rx="7"/><text x="2142.5" y="1145.5"><tspan x="2142.5" dy="-6.5">Responsable des</tspan><tspan x="2142.5" dy="13">ses apprentissages</tspan></text></g>
<g id="p13" class="p"><rect x="2214" y="1168" width="108" height="29" rx="7"/><text x="2268" y="1182.5">Désir d'apprendre</text></g>
<g id="p14" class="p"><rect x="1878" y="1209" width="95" height="27" rx="7"/><text x="1925.5" y="1222.5">Apprenant actif</text></g>
<g id="p15" class="p"><rect x="2023" y="1219" width="108" height="26" rx="7"/><text x="2077" y="1232">Motivation interne</text></g>
<g id="p16" class="p"><rect x="2320" y="1226" width="124" height="27" rx="7"/><text x="2382" y="1239.5">Zone d'apprentissage</text></g>
<g id="p17" class="p"><rect x="1549" y="1219" width="228" height="29" rx="7"/><text x="1663" y="1233.5">Approche pédagogique centrée sur l'élève</text></g>
<g id="p18" class="p"><rect x="1420" y="1228" width="80" height="40" rx="7"/><text x="1460" y="1248"><tspan x="1460" dy="-6.5">Processus</tspan><tspan x="1460" dy="13">d'adaptation</tspan></text></g>
<g id="p19" class="p"><rect x="1841" y="1264" width="73" height="28" rx="7"/><text x="1877.5" y="1278">Enseignant</text></g>
<g id="p20" class="p"><rect x="1738" y="1271" width="73" height="30" rx="7"/><text x="1774.5" y="1286">Évaluatiion</text></g>
<g id="p21" class="p"><rect x="2053" y="1286" width="147" height="38" rx="7"/><text x="2126.5" y="1305"><tspan x="2126.5" dy="-6.5">Planification de situations</tspan><tspan x="2126.5" dy="13">centrées sur l'élève</tspan></text></g>
<g id="p22" class="p"><rect x="2235" y="1281" width="113" height="40" rx="7"/><text x="2291.5" y="1301"><tspan x="2291.5" dy="-6.5">Processus cognitifs</tspan><tspan x="2291.5" dy="13">supérieurs</tspan></text></g>
<g id="p23" class="p"><rect x="1440" y="1296" width="74" height="37" rx="7"/><text x="1477" y="1314.5"><tspan x="1477" dy="-6.5">Par</tspan><tspan x="1477" dy="13">découverte</tspan></text></g>
<g id="p24" class="p"><rect x="1925" y="1309" width="67" height="27" rx="7"/><text x="1958.5" y="1322.5">Médiateur</text></g>
<g id="p25" class="p"><rect x="2396" y="1313" width="60" height="27" rx="7"/><text x="2426" y="1326.5">Analyser</text></g>
<g id="p26" class="p"><rect x="1853" y="1339" width="70" height="25" rx="7"/><text x="1888" y="1351.5">Formative</text></g>
<g id="p27" class="p"><rect x="1985" y="1359" width="103" height="26" rx="7"/><text x="2036.5" y="1372">Accompagnateur</text></g>
<g id="p28" class="p"><rect x="1721" y="1361" width="96" height="27" rx="7"/><text x="1769" y="1374.5">Auto-évaluation</text></g>
<g id="p29" class="p"><rect x="2381" y="1376" width="54" height="28" rx="7"/><text x="2408" y="1390">Évaluer</text></g>
<g id="p30" class="p"><rect x="2300" y="1408" width="44" height="28" rx="7"/><text x="2322" y="1422">Créer</text></g>
<g id="p31" class="p"><rect x="1680" y="1417" width="113" height="39" rx="7"/><text x="1736.5" y="1436.5"><tspan x="1736.5" dy="-6.5">Structure cognitive</tspan><tspan x="1736.5" dy="13">unique</tspan></text></g>
<g id="p32" class="p"><rect x="1820" y="1429" width="140" height="39" rx="7"/><text x="1890" y="1448.5"><tspan x="1890" dy="-6.5">Etablir des liens</tspan><tspan x="1890" dy="13">entre les apprentissages</tspan></text></g>
<g id="p33" class="p"><rect x="1585" y="1439" width="67" height="27" rx="7"/><text x="1618.5" y="1452.5">Par projet</text></g>
<g id="p34" class="p"><rect x="2476" y="1429" width="74" height="27" rx="7"/><text x="2513" y="1442.5">Exploration</text></g>
<g id="p35" class="p"><rect x="2501" y="1476" width="59" height="39" rx="7"/><text x="2530.5" y="1495.5"><tspan x="2530.5" dy="-6.5">Mise en</tspan><tspan x="2530.5" dy="13">pratique</tspan></text></g>
<g id="p36" class="p"><rect x="2424" y="1525" width="99" height="39" rx="7"/><text x="2473.5" y="1544.5"><tspan x="2473.5" dy="-6.5">Confrontation à</tspan><tspan x="2473.5" dy="13">des situations</tspan></text></g>
<g id="p37" class="p"><rect x="2350" y="1567" width="63" height="26" rx="7"/><text x="2381.5" y="1580">Décideur</text></g>
<!-- bright yellow -->
<g id="x1" class="x"><rect x="2199" y="741" width="198" height="30" rx="7"/><text x="2298" y="756">Est-ce que c'est la même chose ???</text></g>
<g id="x2" class="x"><rect x="2410" y="1028" width="88" height="26" rx="7"/><text x="2454" y="1041">Accomodation</text></g>
<g id="x3" class="x"><rect x="2126" y="1047" width="115" height="38" rx="7"/><text x="2183.5" y="1066"><tspan x="2183.5" dy="-6.5">Construction active</tspan><tspan x="2183.5" dy="13">des savoirs</tspan></text></g>
<g id="x4" class="x"><rect x="2361" y="1075" width="79" height="25" rx="7"/><text x="2400.5" y="1087.5">Assimilation</text></g>
<g id="x5" class="x"><rect x="2305" y="1116" width="80" height="31" rx="7"/><text x="2345" y="1131.5">Équilibration</text></g>
<g id="x6" class="x"><rect x="1486" y="1360" width="143" height="38" rx="7"/><text x="1557.5" y="1379"><tspan x="1557.5" dy="-6.5">Construction personnelle</tspan><tspan x="1557.5" dy="13">de leurs savoirs</tspan></text></g>
<g id="x7" class="x"><rect x="1371" y="1469" width="91" height="25" rx="7"/><text x="1416.5" y="1481.5">Connaissances</text></g>
<g id="x8" class="x"><rect x="1450" y="1511" width="79" height="42" rx="7"/><text x="1489.5" y="1532"><tspan x="1489.5" dy="-6.5">Expériences</tspan><tspan x="1489.5" dy="13">passées</tspan></text></g>
<g id="x9" class="x"><rect x="1554" y="1534" width="79" height="38" rx="7"/><text x="1593.5" y="1553"><tspan x="1593.5" dy="-6.5">Conceptions</tspan><tspan x="1593.5" dy="13">antérieurs</tspan></text></g>
<!-- pink -->
<g id="k1" class="kr"><rect x="370" y="864" width="211" height="41" rx="7"/><text x="475.5" y="884.5"><tspan x="475.5" dy="-6.5">Développer la capacité à résoudre</tspan><tspan x="475.5" dy="13">des problèemes de manière collective</tspan></text></g>
<g id="k2" class="kr"><rect x="313" y="936" width="95" height="29" rx="7"/><text x="360.5" y="950.5">Progrès cognitif</text></g>
<g id="k3" class="kr"><rect x="442" y="950" width="137" height="40" rx="7"/><text x="510.5" y="970"><tspan x="510.5" dy="-6.5">Réorganisation des</tspan><tspan x="510.5" dy="13">conceptions antérieures</tspan></text></g>
<g id="k4" class="kr"><rect x="289" y="1008" width="117" height="38" rx="7"/><text x="347.5" y="1027"><tspan x="347.5" dy="-6.5">Intégration des</tspan><tspan x="347.5" dy="13">nouveaux éléments</tspan></text></g>
<g id="k5" class="kb"><rect x="536" y="1015" width="115" height="27" rx="7"/><text x="593.5" y="1028.5">Conflit soci-cognitif</text></g>
<g id="k6" class="kb"><rect x="691" y="1015" width="178" height="39" rx="7"/><text x="780" y="1034.5"><tspan x="780" dy="-6.5">Dimension sociale et</tspan><tspan x="780" dy="13">relationnelle de l'apprentissage</tspan></text></g>
<g id="k7" class="kr"><rect x="1048" y="940" width="79" height="29" rx="7"/><text x="1087.5" y="954.5">Coopération</text></g>
<g id="k8" class="kr"><rect x="1064" y="989" width="129" height="28" rx="7"/><text x="1128.5" y="1003">Engagement collectif</text></g>
<g id="k9" class="kr"><rect x="999" y="1020" width="61" height="27" rx="7"/><text x="1029.5" y="1033.5">Dialogue</text></g>
<g id="k10" class="kr"><rect x="1025" y="1068" width="105" height="26" rx="7"/><text x="1077.5" y="1081">Gestion de classe</text></g>
<g id="k11" class="kb"><rect x="215" y="1086" width="124" height="28" rx="7"/><text x="277" y="1100">Intéractions sociales</text></g>
<g id="k12" class="kb"><rect x="660" y="1125" width="188" height="26" rx="7"/><text x="754" y="1138">Coconstruction des connaissances</text></g>
<g id="k13" class="kr"><rect x="880" y="1110" width="201" height="29" rx="7"/><text x="980.5" y="1124.5">Ne s'adapte pas à toute les situation</text></g>
<g id="k14" class="kr"><rect x="1103" y="1120" width="96" height="26" rx="7"/><text x="1151" y="1133">Auto-évaluation</text></g>
<g id="k15" class="kr"><rect x="1217" y="1096" width="99" height="38" rx="7"/><text x="1266.5" y="1115"><tspan x="1266.5" dy="-6.5">La collaboration</tspan><tspan x="1266.5" dy="13">entre pairs</tspan></text></g>
<g id="k16" class="kr"><rect x="1336" y="1093" width="119" height="41" rx="7"/><text x="1395.5" y="1113.5"><tspan x="1395.5" dy="-6.5">Le développement</tspan><tspan x="1395.5" dy="13">de ses compétences</tspan></text></g>
<g id="k17" class="kb"><rect x="51" y="1128" width="61" height="32" rx="7"/><text x="81.5" y="1144">Échange</text></g>
<g id="k18" class="kb"><rect x="182" y="1149" width="42" height="26" rx="7"/><text x="203" y="1162">Pairs</text></g>
<g id="k19" class="kb"><rect x="328" y="1149" width="79" height="27" rx="7"/><text x="367.5" y="1162.5">Enseignants</text></g>
<g id="k20" class="kb"><rect x="391" y="1109" width="66" height="28" rx="7"/><text x="424" y="1123">Médiateur</text></g>
<g id="k21" class="kb"><rect x="508" y="1112" width="146" height="40" rx="7"/><text x="581" y="1132"><tspan x="581" dy="-6.5">Concepteur de</tspan><tspan x="581" dy="13">situation d'apprentissage</tspan></text></g>
<g id="k22" class="kb"><rect x="424" y="1183" width="47" height="25" rx="7"/><text x="447.5" y="1195.5">Guide</text></g>
<g id="k23" class="kb"><rect x="8" y="1198" width="89" height="28" rx="7"/><text x="52.5" y="1212">Partage d'idée</text></g>
<g id="k24" class="kr"><rect x="1275" y="1168" width="142" height="28" rx="7"/><text x="1346" y="1182">Des erreurs importantes</text></g>
<g id="k25" class="kr"><rect x="853" y="1177" width="105" height="41" rx="7"/><text x="905.5" y="1197.5"><tspan x="905.5" dy="-6.5">Développement</tspan><tspan x="905.5" dy="13">des compétences</tspan></text></g>
<g id="k26" class="kr"><rect x="1006" y="1193" width="71" height="29" rx="7"/><text x="1041.5" y="1207.5">Évaluation</text></g>
<g id="k27" class="kb"><rect x="264" y="1229" width="45" height="30" rx="7"/><text x="286.5" y="1244">Élève</text></g>
<g id="k28" class="kr"><rect x="477" y="1215" width="111" height="52" rx="7"/><text x="532.5" y="1241"><tspan x="532.5" dy="-13">Zone proximale</tspan><tspan x="532.5" dy="13">de développement</tspan><tspan x="532.5" dy="13">(ZPD)</tspan></text></g>
<g id="k29" class="kr"><rect x="785" y="1246" width="83" height="27" rx="7"/><text x="826.5" y="1259.5">Disciplinaires</text></g>
<g id="k30" class="kr"><rect x="904" y="1247" width="87" height="24" rx="7"/><text x="947.5" y="1259">Transversales</text></g>
<g id="k31" class="kr"><rect x="1128" y="1238" width="79" height="26" rx="7"/><text x="1167.5" y="1251">Authentique</text></g>
<g id="k32" class="kb"><rect x="74" y="1250" width="136" height="38" rx="7"/><text x="142" y="1269"><tspan x="142" dy="-6.5">Interagir avec ses pairs</tspan><tspan x="142" dy="13">et son environnement</tspan></text></g>
<g id="k33" class="kr"><rect x="1270" y="1263" width="66" height="26" rx="7"/><text x="1303" y="1276">Correction</text></g>
<g id="k34" class="kb"><rect x="642" y="1264" width="139" height="30" rx="7"/><text x="711.5" y="1279">Approche pédagogique</text></g>
<g id="k35" class="kr"><rect x="1034" y="1279" width="92" height="39" rx="7"/><text x="1080" y="1298.5"><tspan x="1080" dy="-6.5">Apprentissage</tspan><tspan x="1080" dy="13">par découverte</tspan></text></g>
<g id="k36" class="kr"><rect x="918" y="1292" width="92" height="39" rx="7"/><text x="964" y="1311.5"><tspan x="964" dy="-6.5">Apprentissage</tspan><tspan x="964" dy="13">par projet</tspan></text></g>
<g id="k37" class="kr"><rect x="319" y="1304" width="154" height="41" rx="7"/><text x="396" y="1324.5"><tspan x="396" dy="-6.5">contribue à la construction</tspan><tspan x="396" dy="13">des savoirs de ses pairs</tspan></text></g>
<g id="k38" class="kb"><rect x="154" y="1321" width="40" height="24" rx="7"/><text x="174" y="1333">Actif</text></g>
<g id="k39" class="kr"><rect x="719" y="1318" width="151" height="26" rx="7"/><text x="794.5" y="1331">coconstruction des savoirs</text></g>
<g id="k40" class="kr"><rect x="1221" y="1319" width="114" height="38" rx="7"/><text x="1278" y="1338"><tspan x="1278" dy="-6.5">Faire un bilan</tspan><tspan x="1278" dy="13">des apprentissages</tspan></text></g>
<g id="k41" class="kr"><rect x="474" y="1347" width="147" height="30" rx="7"/><text x="547.5" y="1362">Stratégie d'enseignement</text></g>
<g id="k42" class="kr"><rect x="1092" y="1350" width="119" height="40" rx="7"/><text x="1151.5" y="1370"><tspan x="1151.5" dy="-6.5">situer le niveau de</tspan><tspan x="1151.5" dy="13">compétences acquis</tspan></text></g>
<g id="k43" class="kb"><rect x="218" y="1354" width="92" height="39" rx="7"/><text x="264" y="1373.5"><tspan x="264" dy="-6.5">Construit ses</tspan><tspan x="264" dy="13">apprentissages</tspan></text></g>
<g id="k44" class="kr"><rect x="717" y="1368" width="163" height="25" rx="7"/><text x="798.5" y="1380.5">Mise en commun des savoirs</text></g>
<g id="k45" class="kb"><rect x="380" y="1416" width="123" height="29" rx="7"/><text x="441.5" y="1430.5">Pédagogie par projet</text></g>
<g id="k46" class="kr"><rect x="532" y="1418" width="144" height="30" rx="7"/><text x="604" y="1433">Apprentissage coopératif</text></g>
<g id="k47" class="kb"><rect x="407" y="1491" width="104" height="28" rx="7"/><text x="459" y="1505">Situations réelles</text></g>
<g id="k48" class="kb"><rect x="530" y="1491" width="125" height="27" rx="7"/><text x="592.5" y="1504.5">Situations évolutives</text></g>
</svg>
